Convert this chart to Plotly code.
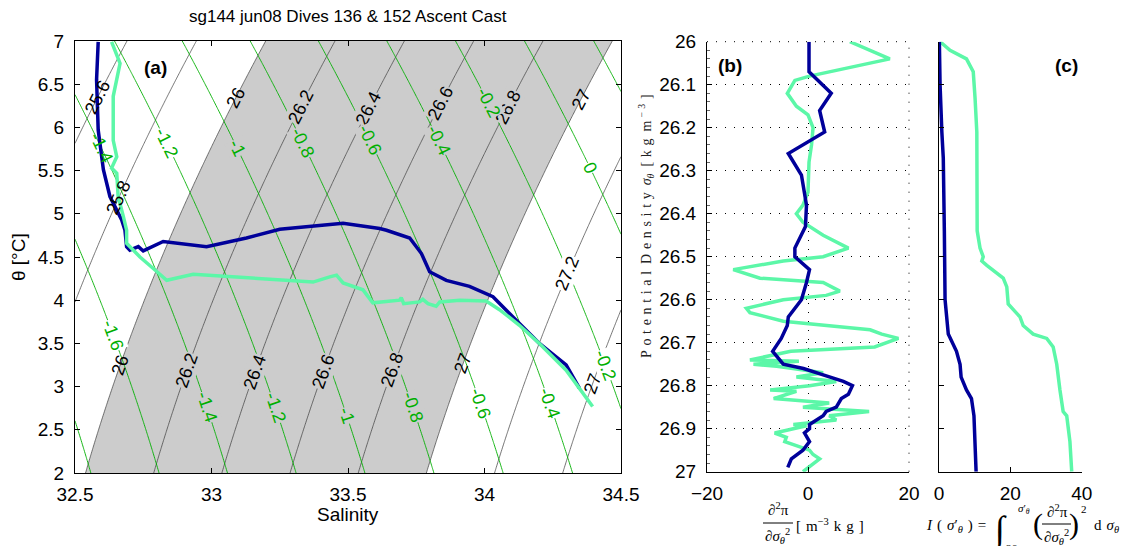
import numpy as np
import plotly.graph_objects as go

W, H = 1124, 546

# ---------------- theta-S profiles ----------------
sal_136 = [32.585, 32.579, 32.585, 32.604, 32.628, 32.653, 32.671, 32.683, 32.689, 32.701,
           32.732, 32.750, 32.823, 32.982, 33.128, 33.250, 33.482, 33.616, 33.641, 33.726,
           33.769, 33.799, 33.860, 33.945, 34.031, 34.128, 34.201, 34.299, 34.348]
theta_136 = [6.99, 6.55, 5.97, 5.51, 5.20, 5.04, 4.93, 4.81, 4.62, 4.58,
             4.62, 4.57, 4.68, 4.62, 4.72, 4.82, 4.89, 4.83, 4.81, 4.72,
             4.54, 4.33, 4.23, 4.16, 4.04, 3.73, 3.50, 3.25, 2.98]

sal_152 = [32.634, 32.665, 32.640, 32.640, 32.653, 32.634, 32.653, 32.658, 32.677, 32.689,
           32.689, 32.738, 32.793, 32.823, 32.836, 32.933, 33.067, 33.372, 33.433, 33.458,
           33.482, 33.555, 33.591, 33.689, 33.695, 33.704, 33.762, 33.774, 33.793, 33.823,
           33.836, 33.909, 34.006, 34.055, 34.128, 34.201, 34.299, 34.396]
theta_152 = [6.99, 6.74, 6.36, 5.85, 5.66, 5.53, 5.47, 5.20, 4.97, 4.81,
             4.66, 4.50, 4.35, 4.27, 4.23, 4.30, 4.27, 4.21, 4.27, 4.29,
             4.20, 4.12, 3.97, 4.00, 4.03, 3.96, 3.98, 4.01, 3.96, 3.93,
             3.98, 4.00, 3.99, 3.89, 3.71, 3.50, 3.19, 2.77]

# ---------------- d2(pi)/d(sigma)^2 profiles ----------------
sig_b_136 = [26.00, 26.07, 26.12, 26.16, 26.21, 26.26, 26.31, 26.38, 26.43, 26.48,
             26.50, 26.53, 26.56, 26.60, 26.64, 26.66, 26.69, 26.72, 26.75, 26.76,
             26.775, 26.79, 26.80, 26.82, 26.83, 26.85, 26.86, 26.87, 26.89, 26.90,
             26.91, 26.93, 26.95, 26.96, 26.97, 26.99]
d2pi_136 = [0.2, 0.2, 4.6, 2.3, 3.3, -3.9, -1.3, -0.3, -0.5, -2.6,
            -2.6, 0.3, -0.3, -1.3, -3.9, -4.1, -5.3, -7.0, -4.9, -0.9,
            3.0, 7.0, 8.8, 8.0, 6.6, 5.6, 3.6, 3.0, 0.3, 0.3,
            -0.7, 0.3, -1.0, -2.3, -3.3, -4.0]

sig_b_152 = [26.00, 26.04, 26.08, 26.09, 26.12, 26.15, 26.17, 26.20, 26.24, 26.28,
             26.35, 26.38, 26.40, 26.42, 26.45, 26.48, 26.50, 26.51, 26.53, 26.55,
             26.56, 26.58, 26.59, 26.60, 26.62, 26.63, 26.65, 26.67, 26.68, 26.69,
             26.71, 26.72, 26.74, 26.743, 26.75, 26.755, 26.77, 26.78, 26.79, 26.80,
             26.81, 26.813, 26.83, 26.84, 26.85, 26.86, 26.87, 26.88, 26.89, 26.893,
             26.91, 26.92, 26.93, 26.94, 26.95, 26.96, 26.97, 27.00]
d2pi_152 = [8.3, 16.2, 0.3, -2.6, -4.1, -2.3, 0.0, 1.0, 0.7, 0.2,
            0.0, -1.0, -2.3, -1.0, 3.0, 8.0, 3.0, -4.9, -14.8, -9.5,
            3.0, 6.3, 3.6, -4.9, -12.2, -11.5, -4.9, 12.3, 14.6, 17.9,
            13.2, -3.4, -11.5, -1.8, -10.8, -6.2, 3.0, -2.3, 5.6, 0.3,
            -7.5, -2.3, -6.8, 4.2, -1.0, 12.1, 4.2, 5.6, -2.9, -0.3,
            -6.6, -4.3, -4.6, -2.3, 0.3, 1.0, 2.3, -1.0]

# ---------------- cumulative integral I(sigma) ----------------
sig_c_136 = [26.00, 26.10, 26.21, 26.27, 26.44, 26.49, 26.60, 26.68, 26.72, 26.75,
             26.78, 26.81, 26.83, 26.87, 26.95, 27.00]
I_136 = [0.1, 0.3, 0.8, 1.2, 1.5, 1.6, 1.7, 2.6, 4.9, 5.9,
         6.2, 7.7, 9.1, 9.8, 10.1, 10.4]

sig_c_152 = [26.00, 26.02, 26.04, 26.07, 26.13, 26.21, 26.44, 26.48, 26.50, 26.51,
             26.52, 26.55, 26.57, 26.61, 26.64, 26.66, 26.68, 26.69, 26.71, 26.75,
             26.81, 26.86, 26.87, 26.93, 27.00]
I_152 = [0.3, 3.1, 7.7, 9.6, 10.1, 10.6, 10.7, 11.5, 12.4, 12.0,
         13.4, 18.0, 19.0, 19.4, 22.7, 23.6, 26.4, 30.2, 32.0, 33.0,
         33.9, 34.8, 35.8, 36.7, 37.2]

sig_ticks = [26.0, 26.1, 26.2, 26.3, 26.4, 26.5, 26.6, 26.7, 26.8, 26.9, 27.0]
sig_ticktext = ["26", "26.1", "26.2", "26.3", "26.4", "26.5", "26.6", "26.7", "26.8", "26.9", "27"]

# contour levels that carry an inline label, and the theta where the label sits
dens_lab_levels = [25.6, 25.8, 26.0, 26.2, 26.4, 26.6, 26.8, 27.0,
                   26.0, 26.2, 26.4, 26.6, 26.8, 27.0, 27.2, 27.4]
dens_lab_theta = [6.35, 5.19, 6.34, 6.24, 6.22, 6.28, 6.24, 6.32,
                  3.25, 3.19, 3.17, 3.17, 3.19, 3.27, 4.31, 3.11]
spice_lab_levels = [-1.4, -1.2, -1.0, -0.8, -0.6, -0.4, -0.2, 0.0,
                    -1.6, -1.4, -1.2, -1.0, -0.8, -0.6, -0.4, -0.2]
spice_lab_theta = [5.77, 5.82, 5.76, 5.82, 5.85, 5.85, 6.29, 5.53,
                   3.60, 2.76, 2.76, 2.67, 2.76, 2.81, 2.81, 3.25]

NAVY = "#00009A"
MINT = "#5CF7A8"
GREEN = "rgb(0,175,0)"
GRAY = "rgb(204,204,204)"
SANS = "Liberation Sans, Arial, sans-serif"
SERIF = "Liberation Serif, DejaVu Serif, serif"

# panel (a) pixel geometry
AX_L, AX_R, AX_T, AX_B = 75, 621, 41, 473
S_MIN, S_MAX, T_MIN, T_MAX = 32.5, 34.5, 2.0, 7.0
XSCALE = (AX_R - AX_L) / (S_MAX - S_MIN)
YSCALE = (AX_B - AX_T) / (T_MAX - T_MIN)


def sigma_theta(S, T):
    """UNESCO EOS-80 surface density minus 1000 (kg m^-3)."""
    rw = (999.842594 + 6.793952e-2 * T - 9.095290e-3 * T**2 + 1.001685e-4 * T**3
          - 1.120083e-6 * T**4 + 6.536332e-9 * T**5)
    A = 0.824493 - 4.0899e-3 * T + 7.6438e-5 * T**2 - 8.2467e-7 * T**3 + 5.3875e-9 * T**4
    B = -5.72466e-3 + 1.0227e-4 * T - 1.6546e-6 * T**2
    C = 4.8314e-4
    return rw + A * S + B * S**1.5 + C * S**2 - 1000.0


SPICE_COEF = np.array([
    [0.0, 7.7442e-01, -5.85e-03, -9.84e-04, -2.06e-04],
    [5.1655e-02, 2.034e-03, -2.742e-04, -8.5e-06, 1.36e-05],
    [6.64783e-03, -2.4681e-04, -1.428e-05, 3.337e-05, 7.894e-06],
    [-5.4023e-05, 7.326e-06, 7.0036e-06, -3.0412e-06, -1.0853e-06],
    [3.949e-07, -3.029e-08, -3.8209e-07, 1.0012e-07, 4.7133e-08],
    [-6.36e-10, -1.309e-09, 6.048e-09, -1.1409e-09, -6.676e-10],
])


def spiciness(S, T):
    """Flament (2002) spiciness."""
    S = np.asarray(S, dtype=float)
    s = S - 35.0
    out = np.zeros_like(S * T, dtype=float)
    for i in range(6):
        for j in range(5):
            out = out + SPICE_COEF[i, j] * T**i * s**j
    return out


sgrid = np.linspace(S_MIN, S_MAX, 241)
tgrid = np.linspace(T_MIN, T_MAX, 241)
SS, TT = np.meshgrid(sgrid, tgrid)
RHO = sigma_theta(SS, TT)
SPICE = spiciness(SS, TT)

fig = go.Figure()

# shaded density band 26 - 27
fig.add_trace(go.Contour(
    x=sgrid, y=tgrid, z=RHO, xaxis="x", yaxis="y",
    contours=dict(type="constraint", operation="][", value=[26, 27]),
    fillcolor=GRAY, line=dict(width=0, color="rgba(0,0,0,0)"),
    showscale=False, hoverinfo="skip"))

# isopycnals
fig.add_trace(go.Contour(
    x=sgrid, y=tgrid, z=RHO, xaxis="x", yaxis="y",
    contours=dict(start=25.6, end=27.4, size=0.2, coloring="lines", showlabels=False),
    colorscale=[[0, "#3a3a3a"], [1, "#3a3a3a"]], line=dict(width=0.7),
    showscale=False, hoverinfo="skip"))

# spiciness isolines
fig.add_trace(go.Contour(
    x=sgrid, y=tgrid, z=SPICE, xaxis="x", yaxis="y",
    contours=dict(start=-2.0, end=0.4, size=0.2, coloring="lines", showlabels=False),
    colorscale=[[0, GREEN], [1, GREEN]], line=dict(width=0.9),
    showscale=False, hoverinfo="skip"))

# theta-S casts
fig.add_trace(go.Scatter(x=sal_136, y=theta_136, mode="lines", xaxis="x", yaxis="y",
                         line=dict(color=NAVY, width=3.5), showlegend=False))
fig.add_trace(go.Scatter(x=sal_152, y=theta_152, mode="lines", xaxis="x", yaxis="y",
                         line=dict(color=MINT, width=3.5), showlegend=False))

# second derivative of spiciness vs density
fig.add_trace(go.Scatter(x=d2pi_152, y=sig_b_152, mode="lines", xaxis="x2", yaxis="y2",
                         line=dict(color=MINT, width=3.5), showlegend=False))
fig.add_trace(go.Scatter(x=d2pi_136, y=sig_b_136, mode="lines", xaxis="x2", yaxis="y2",
                         line=dict(color=NAVY, width=3.5), showlegend=False))

# cumulative integral
fig.add_trace(go.Scatter(x=I_152, y=sig_c_152, mode="lines", xaxis="x3", yaxis="y3",
                         line=dict(color=MINT, width=3.5), showlegend=False))
fig.add_trace(go.Scatter(x=I_136, y=sig_c_136, mode="lines", xaxis="x3", yaxis="y3",
                         line=dict(color=NAVY, width=3.5), showlegend=False))


def px(x):
    return x / W


def py(y):
    return 1 - y / H


tickfont = dict(family=SANS, size=19, color="black")
common = dict(showline=True, linecolor="black", linewidth=1, ticks="inside", ticklen=5,
              tickcolor="black", tickfont=tickfont, zeroline=False, showgrid=False,
              automargin=False)
DOTS = "1px,8px"

fig.update_layout(
    width=W, height=H, margin=dict(l=0, r=0, t=0, b=0, autoexpand=False),
    paper_bgcolor="white", plot_bgcolor="white", showlegend=False,
    xaxis=dict(domain=[px(AX_L), px(AX_R)], range=[S_MIN, S_MAX],
               tickvals=[32.5, 33, 33.5, 34, 34.5], ticktext=["32.5", "33", "33.5", "34", "34.5"],
               mirror="ticks", ticklabelstandoff=4, anchor="y", **common),
    yaxis=dict(domain=[py(AX_B), py(AX_T)], range=[T_MIN, T_MAX],
               tickvals=[2, 2.5, 3, 3.5, 4, 4.5, 5, 5.5, 6, 6.5, 7],
               ticktext=["2", "2.5", "3", "3.5", "4", "4.5", "5", "5.5", "6", "6.5", "7"],
               mirror="ticks", ticklabelstandoff=6, anchor="x", **common),
    xaxis2=dict(domain=[px(707), px(909)], range=[-20, 20], tickvals=[-20, 0, 20],
                ticktext=["\u221220", "0", "20"], anchor="y2", ticklabelstandoff=4,
                **{**common, "showgrid": True}, gridcolor="black", griddash=DOTS, gridwidth=1),
    yaxis2=dict(domain=[py(471.7), py(41.7)], range=[27, 26], tickvals=sig_ticks,
                ticktext=sig_ticktext, anchor="x2", ticklabelstandoff=6,
                **{**common, "showgrid": True}, gridcolor="black", griddash=DOTS, gridwidth=1,
                minor=dict(ticks="inside", ticklen=3, dtick=0.02, tickcolor="#666")),
    xaxis3=dict(domain=[px(939), px(1081.7)], range=[0, 40], tickvals=[0, 20, 40],
                ticktext=["0", "20", "40"], anchor="y3", ticklabelstandoff=4, **common),
    yaxis3=dict(domain=[py(471.7), py(41.7)], range=[27, 26], tickvals=sig_ticks,
                showticklabels=False, anchor="x3", **common),
)

ann = []


def add_text(x, y, text, size=19, family=SANS, color="black", angle=0, xanchor="center",
             yanchor="middle"):
    ann.append(dict(x=px(x), y=py(y), xref="paper", yref="paper", text=text, showarrow=False,
                    font=dict(size=size, family=family, color=color), textangle=angle,
                    xanchor=xanchor, yanchor=yanchor))


# ---- inline contour labels for panel (a) ----
def to_px(S, T):
    return AX_L + (S - S_MIN) * XSCALE, AX_B - (T - T_MIN) * YSCALE


def dense_path(xs, ys, n=12):
    out_x, out_y = [], []
    for i in range(len(xs) - 1):
        for f in np.linspace(0, 1, n, endpoint=False):
            out_x.append(xs[i] + f * (xs[i + 1] - xs[i]))
            out_y.append(ys[i] + f * (ys[i + 1] - ys[i]))
    return to_px(np.array(out_x), np.array(out_y))


prof_px = [dense_path(sal_136, theta_136), dense_path(sal_152, theta_152)]


def near_profile(xp, yp, tol=20):
    return any(np.min(np.hypot(ax_ - xp, ay_ - yp)) < tol for ax_, ay_ in prof_px)


def fmt(level):
    txt = f"{level:.1f}".rstrip("0").rstrip(".")
    return "0" if txt in ("-0", "0") else txt


def contour_label(func, level, theta, color):
    row = func(sgrid, np.full_like(sgrid, theta))
    S = float(np.interp(level, row, sgrid))
    eps = 1e-3
    dfds = (func(np.array(S + eps), theta) - func(np.array(S - eps), theta)) / (2 * eps)
    dfdt = (func(np.array(S), theta + eps) - func(np.array(S), theta - eps)) / (2 * eps)
    dtds = -float(dfds) / float(dfdt)
    ang = np.degrees(np.arctan2(-dtds * YSCALE, XSCALE))
    if ang > 90:
        ang -= 180
    if ang < -90:
        ang += 180
    xp, yp = to_px(S, theta)
    rho_here = float(sigma_theta(np.array(S), theta))
    bg = None
    if not near_profile(xp, yp):
        if 26.03 < rho_here < 26.97:
            bg = GRAY
        elif rho_here < 25.97 or rho_here > 27.03:
            bg = "white"
    a = dict(x=S, y=theta, xref="x", yref="y", text=fmt(level), showarrow=False,
             font=dict(size=18, family=SANS, color=color), textangle=float(ang),
             xanchor="center", yanchor="middle", borderpad=0)
    if bg:
        a["bgcolor"] = bg
    ann.append(a)


for lev, th in zip(dens_lab_levels, dens_lab_theta):
    contour_label(sigma_theta, lev, th, "black")
for lev, th in zip(spice_lab_levels, spice_lab_theta):
    contour_label(spiciness, lev, th, GREEN)

add_text(348, 16, "sg144 jun08 Dives 136 &amp; 152 Ascent Cast", size=17)
add_text(348, 514, "Salinity")
add_text(18, 257, "\u03b8 [\u00b0C]", angle=-90)
add_text(155, 67, "<b>(a)</b>")
add_text(730, 65, "<b>(b)</b>")
add_text(1066, 65, "<b>(c)</b>")

sp = "\u2004"
ylab_b = (sp.join("Potential") + "\u2002" + sp.join("Density") + "\u2002"
          + "<i>\u03c3</i><sub><i>\u03b8</i></sub>" + "\u2002[" + sp + "k" + sp + "g" + "\u2002"
          + "m<sup>" + sp + "\u2212" + sp + "3</sup>" + sp + "]")
add_text(646, 226, ylab_b, size=14, family=SERIF, color="#222", angle=-90)

# x label of panel (b): d2 pi / d sigma^2 [m^-3 kg]
add_text(778, 509, "\u2202<sup>2</sup>\u03c0", size=15, family=SERIF)
add_text(777, 536, "\u2202<i>\u03c3</i><sub><i>\u03b8</i></sub><sup>2</sup>", size=15, family=SERIF)
add_text(830, 525, "[" + sp + "m<sup>\u22123</sup>" + sp + "k" + sp + "g" + sp + "]", size=15,
         family=SERIF)

# x label of panel (c): I(sigma') = int_26^sigma' (d2pi/dsigma2)^2 dsigma
add_text(956, 526, "<i>I</i>" + sp + "(" + sp + "<i>\u03c3</i>\u2032<sub><i>\u03b8</i></sub>" + sp + ")"
         + sp + "=", size=15, family=SERIF)
add_text(1000, 530, "\u222b", size=36, family=SERIF)
add_text(1024, 509, "<i>\u03c3</i>\u2032<sub><i>\u03b8</i></sub>", size=11, family=SERIF)
add_text(1012, 548, "26", size=11, family=SERIF)
add_text(1038, 524, "(", size=30, family=SERIF)
add_text(1057, 511, "\u2202<sup>2</sup>\u03c0", size=15, family=SERIF)
add_text(1056, 537, "\u2202<i>\u03c3</i><sub><i>\u03b8</i></sub><sup>2</sup>", size=15, family=SERIF)
add_text(1074, 524, ")", size=30, family=SERIF)
add_text(1084, 509, "2", size=11, family=SERIF)
add_text(1106, 526, "d" + sp + "<i>\u03c3</i><sub><i>\u03b8</i></sub>", size=15, family=SERIF)

fig.update_layout(annotations=ann)

dot_line = dict(color="black", width=1, dash=DOTS)
fig.update_layout(shapes=[
    # fraction bars
    dict(type="line", xref="paper", yref="paper", x0=px(763), x1=px(793), y0=py(523), y1=py(523),
         line=dict(color="black", width=1)),
    dict(type="line", xref="paper", yref="paper", x0=px(1042), x1=px(1071), y0=py(524), y1=py(524),
         line=dict(color="black", width=1)),
    # dotted grid along the open top and right edges of panel (b)
    dict(type="line", xref="x2 domain", yref="y2 domain", x0=0, x1=1, y0=1, y1=1,
         line=dot_line, layer="below"),
    dict(type="line", xref="x2 domain", yref="y2 domain", x0=1, x1=1, y0=0, y1=1,
         line=dot_line, layer="below"),
])

fig.write_html("out.html")
